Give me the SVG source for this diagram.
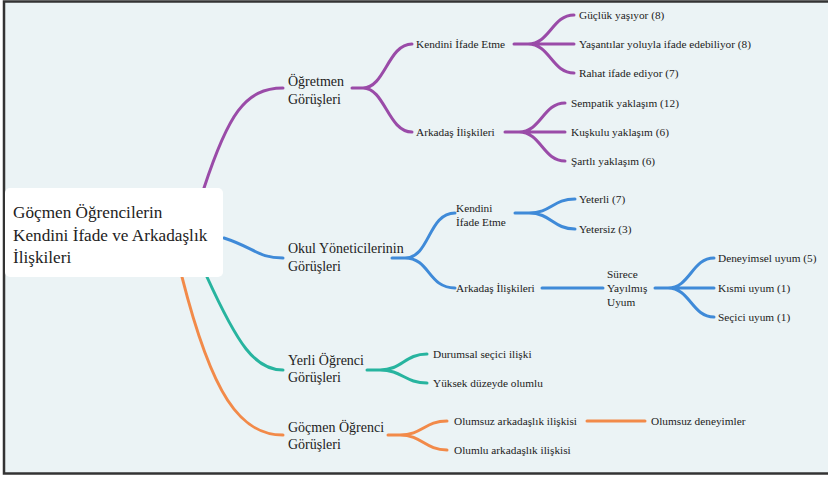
<svg xmlns="http://www.w3.org/2000/svg" width="828" height="477" viewBox="0 0 828 477">
<style>
text{font-family:"Liberation Serif","Times New Roman",serif;fill:#222}
.l2{font-size:14px}
.l3{font-size:11.3px}
.c{fill:none;stroke-width:3;stroke-linecap:round}
.p{stroke:#9a4ba8}
.b{stroke:#3f8ad8}
.t{stroke:#27b49f}
.o{stroke:#f28a49}
</style>
<rect x="0" y="0" width="828" height="477" fill="#ffffff"/>
<rect x="4" y="1.5" width="830" height="472" fill="#ebf3f5" stroke="#333" stroke-width="2.5"/>
<g id="connectors">
<path class="c p" d="M204,188 C228,115 245,88 283,88"/>
<path class="c p" d="M352,88 H363 C385,88 388,44 412,44 M363,88 C385,88 388,132 412,132"/>
<path class="c p" d="M514,44 H528 C550,44 552,15 574,15 M528,44 H574 M528,44 C550,44 552,73 574,73"/>
<path class="c p" d="M505,132 H519 C541,132 543,103 565,103 M519,132 H565 M519,132 C541,132 543,161 565,161"/>
<path class="c b" d="M224,238 C255,248 258,258 283,258"/>
<path class="c b" d="M392,258 H405 C430,258 428,213 455,213 M405,258 C430,258 428,288 455,288"/>
<path class="c b" d="M515,213 H529 C551,213 553,199 575,199 M529,213 C551,213 553,229 575,229"/>
<path class="c b" d="M542,288 H603"/>
<path class="c b" d="M655,288 H668 C690,288 692,258 714,258 M668,288 H714 M668,288 C690,288 692,317 714,317"/>
<path class="c t" d="M207,277 C238,345 255,370 283,370"/>
<path class="c t" d="M367,370 H380 C402,370 405,354 427,354 M380,370 C402,370 405,383 427,383"/>
<path class="c o" d="M182,277 C212,395 240,435 283,435"/>
<path class="c o" d="M388,435 H400 C422,435 425,421 447,421 M400,435 C422,435 425,450 447,450"/>
<path class="c o" d="M587,421 H645"/>
</g>
<g id="root">
<rect x="5" y="188" width="218" height="89" rx="5" fill="#ffffff"/>
<text x="13" y="218" font-size="17.2">Göçmen Öğrencilerin</text>
<text x="13" y="241" font-size="17.2">Kendini İfade ve Arkadaşlık</text>
<text x="13" y="263" font-size="17.2">İlişkileri</text>
</g>
<g id="ogretmen"><text class="l2" x="288" y="86">Öğretmen</text><text class="l2" x="288" y="104">Görüşleri</text></g>
<g id="og-kendini"><text class="l3" x="416" y="48">Kendini İfade Etme</text></g>
<g id="og-k1"><text class="l3" x="579" y="19">Güçlük yaşıyor (8)</text></g>
<g id="og-k2"><text class="l3" x="579" y="48">Yaşantılar yoluyla ifade edebiliyor (8)</text></g>
<g id="og-k3"><text class="l3" x="579" y="77">Rahat ifade ediyor (7)</text></g>
<g id="og-arkadas"><text class="l3" x="416" y="136">Arkadaş İlişkileri</text></g>
<g id="og-a1"><text class="l3" x="571" y="107">Sempatik yaklaşım (12)</text></g>
<g id="og-a2"><text class="l3" x="571" y="136">Kuşkulu yaklaşım (6)</text></g>
<g id="og-a3"><text class="l3" x="571" y="165">Şartlı yaklaşım (6)</text></g>
<g id="yonetici"><text class="l2" x="288" y="253">Okul Yöneticilerinin</text><text class="l2" x="288" y="271">Görüşleri</text></g>
<g id="yo-kendini"><text class="l3" x="456" y="212">Kendini</text><text class="l3" x="456" y="226">İfade Etme</text></g>
<g id="yo-k1"><text class="l3" x="579" y="203">Yeterli (7)</text></g>
<g id="yo-k2"><text class="l3" x="579" y="233">Yetersiz (3)</text></g>
<g id="yo-arkadas"><text class="l3" x="456" y="292">Arkadaş İlişkileri</text></g>
<g id="surece"><text class="l3" x="607" y="278">Sürece</text><text class="l3" x="607" y="292">Yayılmış</text><text class="l3" x="607" y="306">Uyum</text></g>
<g id="su-1"><text class="l3" x="718" y="262">Deneyimsel uyum (5)</text></g>
<g id="su-2"><text class="l3" x="718" y="292">Kısmi uyum (1)</text></g>
<g id="su-3"><text class="l3" x="718" y="321">Seçici uyum (1)</text></g>
<g id="yerli"><text class="l2" x="288" y="365">Yerli Öğrenci</text><text class="l2" x="288" y="382">Görüşleri</text></g>
<g id="ye-1"><text class="l3" x="433" y="358">Durumsal seçici ilişki</text></g>
<g id="ye-2"><text class="l3" x="433" y="387">Yüksek düzeyde olumlu</text></g>
<g id="gocmen"><text class="l2" x="288" y="432">Göçmen Öğrenci</text><text class="l2" x="288" y="449">Görüşleri</text></g>
<g id="go-1"><text class="l3" x="454" y="425">Olumsuz arkadaşlık ilişkisi</text></g>
<g id="go-2"><text class="l3" x="454" y="454">Olumlu arkadaşlık ilişkisi</text></g>
<g id="go-3"><text class="l3" x="651" y="425">Olumsuz deneyimler</text></g>
</svg>
